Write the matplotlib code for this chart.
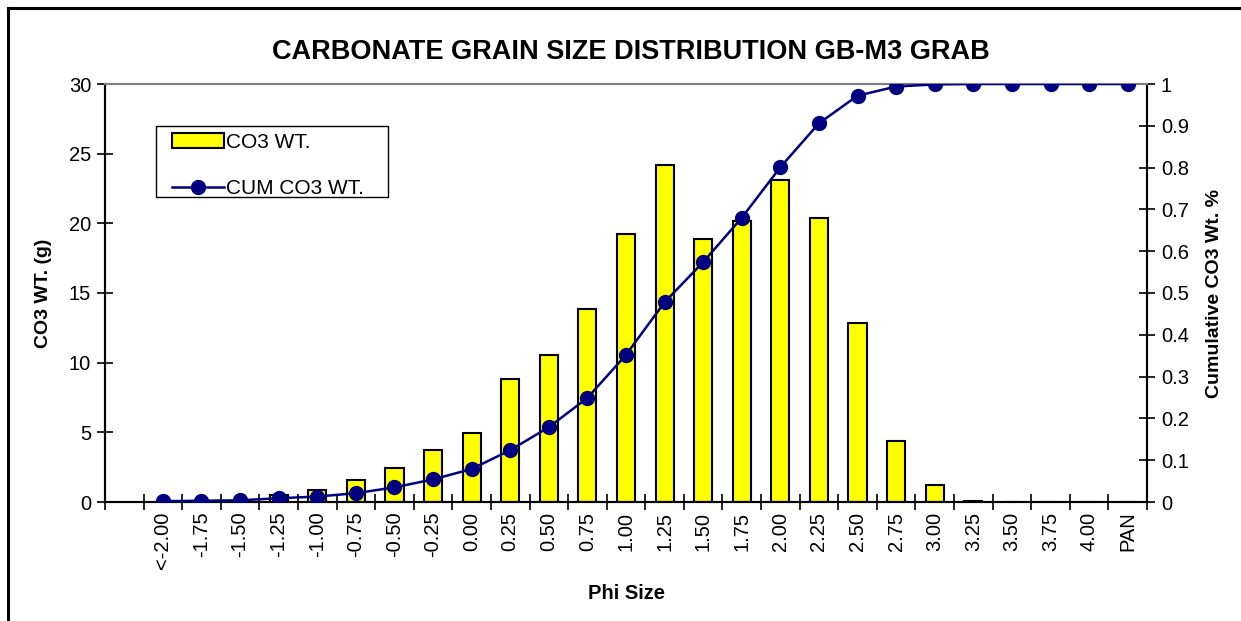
import matplotlib.pyplot as plt
import numpy as np
from matplotlib.lines import Line2D
from matplotlib.patches import Rectangle

plt.rcParams['font.family'] = ['Liberation Sans', 'DejaVu Sans']

# phi size classes (first slot left empty, as in the worksheet)
phi = ['', '<-2.00', '-1.75', '-1.50', '-1.25', '-1.00', '-0.75', '-0.50', '-0.25',
       '0.00', '0.25', '0.50', '0.75', '1.00', '1.25', '1.50', '1.75', '2.00',
       '2.25', '2.50', '2.75', '3.00', '3.25', '3.50', '3.75', '4.00', 'PAN']
co3_wt = [np.nan, 0.0, 0.0, 0.0, 0.5, 0.88, 1.55, 2.45, 3.75,
          4.95, 8.8, 10.55, 13.85, 19.2, 24.2, 18.9, 20.2, 23.1,
          20.35, 12.85, 4.35, 1.2, 0.1, 0.0, 0.0, 0.0, 0.0]
cum_co3 = [np.nan, 0.002, 0.003, 0.004, 0.009, 0.013, 0.021, 0.035, 0.054,
           0.079, 0.124, 0.179, 0.249, 0.352, 0.478, 0.574, 0.680, 0.801,
           0.906, 0.972, 0.994, 0.999, 1.0, 1.0, 1.0, 1.0, 1.0]

x = np.arange(len(phi))
W, H = 1241, 621
L, R, T, B = 105, 1147, 84, 502

fig = plt.figure(figsize=(W/100, H/100), dpi=100)
ax = fig.add_axes([L/W, 1 - B/H, (R - L)/W, (B - T)/H])
ax2 = ax.twinx()

bars = ax.bar(x, co3_wt, width=0.47, color='#FFFF00', edgecolor='black', linewidth=1.5,
              label='CO3 WT.', zorder=2)
line, = ax2.plot(x, cum_co3, color='#000080', lw=1.8, marker='o', markersize=10,
                 label='CUM CO3 WT.', zorder=3)

ax.set_xlim(-0.5, len(phi) - 0.5)
ax.set_ylim(0, 30)
ax.set_yticks(np.arange(0, 31, 5))
ax2.set_ylim(0, 1)
ax2.set_yticks(np.arange(0, 1.01, 0.1))
ax2.set_yticklabels(['0'] + ['%.1f' % v for v in np.arange(0.1, 1.0, 0.1)] + ['1'])

ax.set_xticks(x)
ax.set_xticklabels(phi, rotation=90, fontsize=14.5)
ax.tick_params(axis='x', which='major', length=0, pad=7)
ax.set_xticks(np.arange(-0.5, len(phi), 1), minor=True)
ax.tick_params(axis='x', which='minor', direction='inout', length=12, width=1.2)
ax.tick_params(axis='y', direction='inout', length=12, width=1.2, labelsize=14.5, pad=4)
ax2.tick_params(axis='y', direction='inout', length=12, width=1.2, labelsize=14.5, pad=4)

for a in (ax, ax2):
    a.spines['top'].set_color('#808080')
    for s in a.spines.values():
        s.set_linewidth(1.5)

ax.set_xlabel('Phi Size', fontsize=14.5, fontweight='bold', labelpad=11)
ax.set_ylabel('CO3 WT. (g)', fontsize=14, fontweight='bold', labelpad=12)
ax2.set_ylabel('Cumulative CO3 Wt. %', fontsize=14, fontweight='bold', labelpad=12)
fig.text(631/W, 1 - 52/H, 'CARBONATE GRAIN SIZE DISTRIBUTION GB-M3 GRAB',
         ha='center', va='center', fontsize=19.5, fontweight='bold')

# legend box drawn separately so its padding can be wider than tall
ax2.add_patch(Rectangle(((156 - L)/(R - L), 1 - (197 - T)/(B - T)),
                        (388 - 156)/(R - L), (197 - 126)/(B - T),
                        transform=ax2.transAxes, facecolor='white', edgecolor='black',
                        lw=1.0, zorder=4))
leg = ax2.legend([bars, line], ['CO3 WT.', 'CUM CO3 WT.'], loc='upper left',
                 bbox_to_anchor=((172 - L)/(R - L), 1 - (133 - T)/(B - T)),
                 fontsize=15, frameon=False, borderpad=0, labelspacing=1.3,
                 handlelength=2.5, handletextpad=0.1, borderaxespad=0)
leg.set_zorder(5)

# outer chart border
fig.add_artist(Line2D([8/W, 1], [1 - 8/H, 1 - 8/H], color='black', lw=2.2,
                      transform=fig.transFigure))
fig.add_artist(Line2D([8/W, 8/W], [0, 1 - 8/H], color='black', lw=2.2,
                      transform=fig.transFigure))

fig.savefig('out.png', dpi=100)
